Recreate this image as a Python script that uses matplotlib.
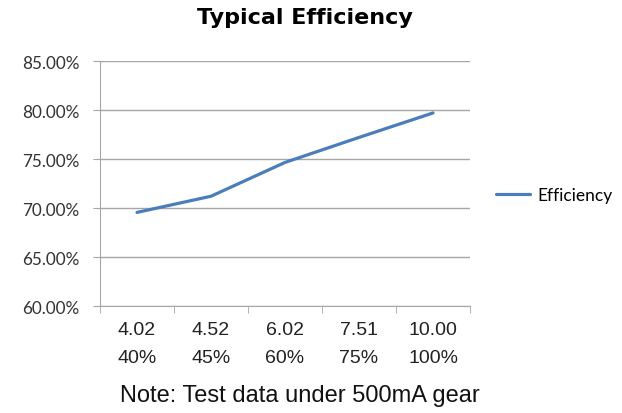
import numpy as np
import matplotlib.pyplot as plt
from matplotlib.ticker import FuncFormatter

current = ['4.02', '4.52', '6.02', '7.51', '10.00']
load = ['40%', '45%', '60%', '75%', '100%']
efficiency = [69.55, 71.2, 74.65, 77.2, 79.7]

grey = '#a6a6a6'
blue = '#4a7ebb'

fig = plt.figure(figsize=(6.22, 4.14), dpi=100)
ax = fig.add_axes([100 / 622, 1 - 307 / 414, 370 / 622, 245 / 414])

x = np.arange(len(current))
ax.plot(x, efficiency, color=blue, lw=2.3, label='Efficiency', solid_capstyle='round')

ax.set_xlim(-0.5, len(current) - 0.5)
ax.set_ylim(60, 85)
ax.set_yticks(np.arange(60, 86, 5))
ax.yaxis.set_major_formatter(FuncFormatter(lambda v, p: f'{v:.2f}%'))
ax.grid(axis='y', color=grey, lw=1)
ax.set_axisbelow(True)

for s in ['top', 'right']:
    ax.spines[s].set_visible(False)
for s in ['left', 'bottom']:
    ax.spines[s].set_color(grey)

# category labels: no ticks at centers, ticks at boundaries
ax.set_xticks(x)
ax.set_xticklabels([f'{c}\n{l}' for c, l in zip(current, load)],
                   linespacing=1.8, fontsize=14, fontfamily='Liberation Sans', color='#222222')
ax.tick_params(axis='x', length=0, pad=11)
ax.set_xticks(np.arange(-0.5, len(current)), minor=True)
ax.tick_params(axis='x', which='minor', length=5, color=grey)
ax.tick_params(axis='y', length=5, color=grey, labelsize=12.3, labelcolor='#333333', pad=10)
for t in ax.get_yticklabels():
    t.set_fontfamily('Lato')

fig.text(305 / 622, 1 - 18 / 414, 'Typical Efficiency', ha='center', va='center',
         fontsize=16, fontweight='bold', fontfamily='DejaVu Sans')
fig.text(300 / 622, 1 - 396 / 414, 'Note: Test data under 500mA gear', ha='center', va='center',
         fontsize=17, fontfamily='Liberation Sans', color='#111111')

fig.legend(loc='center left', bbox_to_anchor=(480 / 622, 1 - 196 / 414), frameon=False,
           handlelength=2.0, handletextpad=0.4, prop={'family': 'Lato', 'size': 12.5})

fig.savefig('out.png', dpi=100)
